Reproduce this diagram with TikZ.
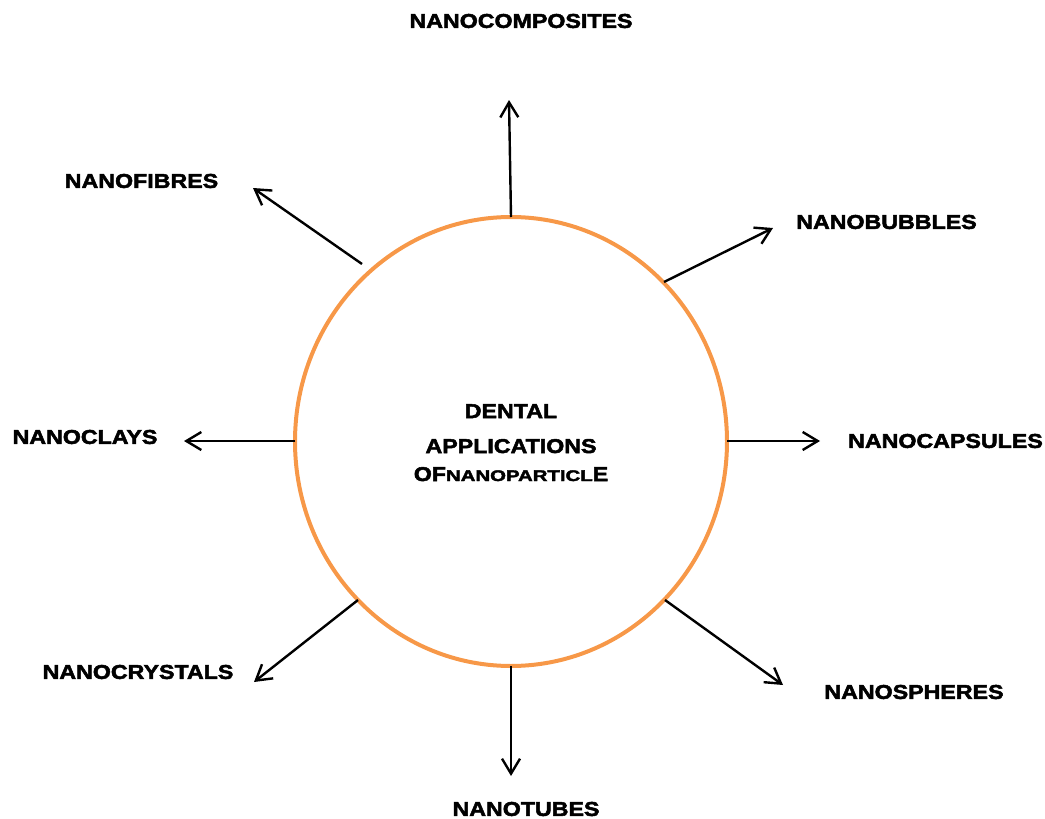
\documentclass[tikz,border=0pt]{standalone}
\usepackage{fontspec}
\usetikzlibrary{arrows.meta,shapes.geometric}
\newfontfamily\labfont{Liberation Sans Bold}[FakeStretch=1.16,FakeBold=2.5]
\definecolor{ringorange}{RGB}{247,152,72}
\tikzset{
  lab/.style={inner sep=0pt,font=\labfont\fontsize{20}{24}\selectfont},
  ctext/.style={inner sep=0pt,anchor=base,font=\labfont\fontsize{20}{24}\selectfont},
  link/.style={line width=2.4pt,-{Straight Barb[length=15pt,width=18pt]}},
  ring/.style={ellipse,draw=ringorange,line width=4pt,minimum width=432pt,minimum height=449pt,inner sep=0pt}
}
\begin{document}
\begin{tikzpicture}[x=1pt,y=-1pt]
\useasboundingbox (0,0) rectangle (1045,819);
\node[ring] (c) at (511,441.5) {};
\node[ctext] (t1) at (511,418) {DENTAL};
\node[ctext] (t2) at (511,453) {APPLICATIONS};
\node[ctext] (t3) at (511,481) {OF\scalebox{1.14}[1]{\fontsize{15.4}{18}\selectfont NANOPARTICL}E};
% labels
\node[lab] (l1) at (521,21) {NANOCOMPOSITES};
\node[lab] (l2) at (886.5,222) {NANOBUBBLES};
\node[lab] (l3) at (945.5,441) {NANOCAPSULES};
\node[lab] (l4) at (914,692) {NANOSPHERES};
\node[lab] (l5) at (526,809) {NANOTUBES};
\node[lab] (l6) at (138,672) {NANOCRYSTALS};
\node[lab] (l7) at (85,437) {NANOCLAYS};
\node[lab] (l8) at (141.5,181) {NANOFIBRES};
% arrow ends
\coordinate (s1) at (511,217); \coordinate (e1) at (509,100);
\coordinate (s2) at (664,282); \coordinate (e2) at (773,228);
\coordinate (s3) at (727,441); \coordinate (e3) at (820,441);
\coordinate (s4) at (665,600); \coordinate (e4) at (783,685);
\coordinate (s5) at (511,666); \coordinate (e5) at (511,776);
\coordinate (s6) at (358,600); \coordinate (e6) at (254,682);
\coordinate (s7) at (295,441); \coordinate (e7) at (184,441);
\coordinate (s8) at (362,264); \coordinate (e8) at (253,188);
\foreach \i in {1,...,8} {\draw[link] (s\i) -- (e\i);}
\end{tikzpicture}
\end{document}
